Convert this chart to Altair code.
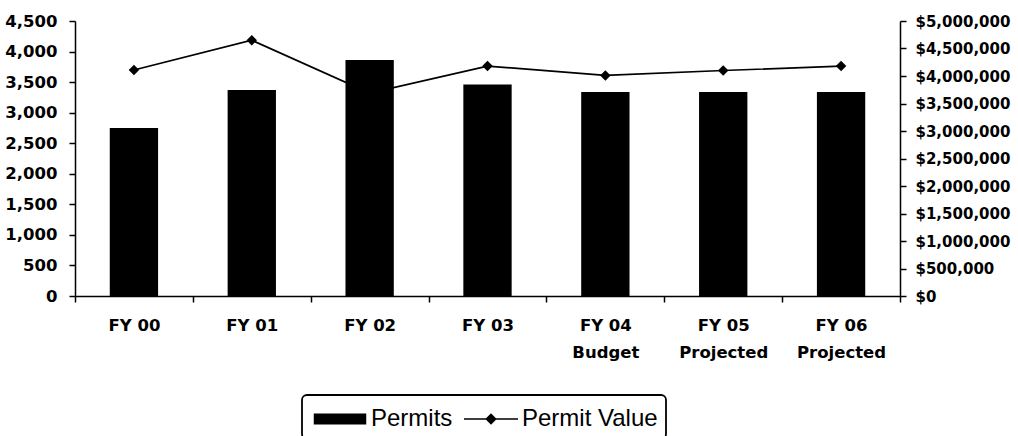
import altair as alt
import pandas as pd

# Fiscal years, with the second label line for budget / projected years
fiscal_years = ["FY 00", "FY 01", "FY 02", "FY 03", "FY 04", "FY 05", "FY 06"]
year_notes = ["", "", "", "", "Budget", "Projected", "Projected"]

# Number of permits issued (left axis)
permits = [2750, 3370, 3860, 3460, 3340, 3340, 3340]

# Total permit value in dollars (right axis)
permit_value = [4110000, 4650000, 3690000, 4180000, 4010000, 4100000, 4180000]

permit_ticks = [0, 500, 1000, 1500, 2000, 2500, 3000, 3500, 4000, 4500]
value_ticks = [0, 500000, 1000000, 1500000, 2000000, 2500000, 3000000,
               3500000, 4000000, 4500000, 5000000]

series_names = ["Permits", "Permit Value"]

categories = [fy if not note else fy + "\n" + note
              for fy, note in zip(fiscal_years, year_notes)]

df = pd.DataFrame({
    "year": categories,
    "permits": permits,
    "value": permit_value,
})

x_enc = alt.X(
    "year:N",
    sort=categories,
    scale=alt.Scale(paddingInner=0, paddingOuter=0),
    axis=alt.Axis(
        title=None,
        labelAngle=0,
        tickBand="extent",
        labelExpr="split(datum.label, '\\n')",
        labelLineHeight=27,
        labelPadding=15,
    ),
)

base = alt.Chart(df)

value_line = base.mark_line(
    color="black",
    strokeWidth=1.7,
    point=alt.OverlayMarkDef(shape="diamond", filled=True, color="black",
                             size=110, opacity=1),
).encode(
    x=x_enc,
    y=alt.Y(
        "value:Q",
        scale=alt.Scale(domain=[0, 5000000], nice=False, zero=True),
        axis=alt.Axis(orient="right", title=None, values=value_ticks,
                      format="$,.0f", labelPadding=9, labelFontSize=15),
    ),
)

permit_bars = base.mark_bar(
    color="black",
    width=alt.RelativeBandSize(0.41),
).encode(
    x=x_enc,
    y=alt.Y(
        "permits:Q",
        scale=alt.Scale(domain=[0, 4500], nice=False),
        axis=alt.Axis(orient="left", title=None, values=permit_ticks,
                      format=",.0f", labelPadding=12),
    ),
)

# Legend swatches: a wide block for the bars, a thin line with a diamond for the series
bar_swatch = "M-1.75,-0.36H1.75V0.36H-1.75Z"
line_swatch = ("M-1.8,-0.055H1.8V0.055H-1.8Z"
               "M0,-0.38L0.38,0L0,0.38L-0.38,0Z")

legend_layer = alt.Chart(pd.DataFrame({"series": series_names})).mark_point(
    filled=True, fill="black", opacity=1,
).encode(
    shape=alt.Shape(
        "series:N",
        scale=alt.Scale(domain=series_names, range=[bar_swatch, line_swatch]),
        legend=alt.Legend(
            title=None,
            orient="none",
            direction="horizontal",
            legendX=227,
            legendY=374,
            symbolSize=900,
            symbolOffset=14,
            symbolFillColor="black",
            labelOffset=15,
            columnPadding=8,
            padding=8,
            labelFont="Liberation Sans",
            labelFontSize=24,
            labelColor="black",
            strokeColor="black",
            fillColor="white",
            cornerRadius=5,
        ),
    ),
).transform_filter("false")

chart = alt.layer(value_line, permit_bars, legend_layer).resolve_scale(
    y="independent"
).properties(
    width=825,
    height=275,
    padding={"left": 75, "top": 21, "right": 118, "bottom": 140},
    autosize=alt.AutoSizeParams(type="none"),
    background="white",
).configure_view(
    strokeWidth=0,
).configure_axis(
    grid=False,
    domainColor="black",
    domainWidth=1.5,
    tickColor="black",
    tickWidth=1.5,
    tickSize=6,
    labelFont="DejaVu Sans",
    labelFontWeight="bold",
    labelFontSize=16.5,
    labelColor="black",
).configure_legend(
    strokeWidth=1.8,
)

chart.save("out.html", embed_options={"renderer": "svg", "actions": False})
